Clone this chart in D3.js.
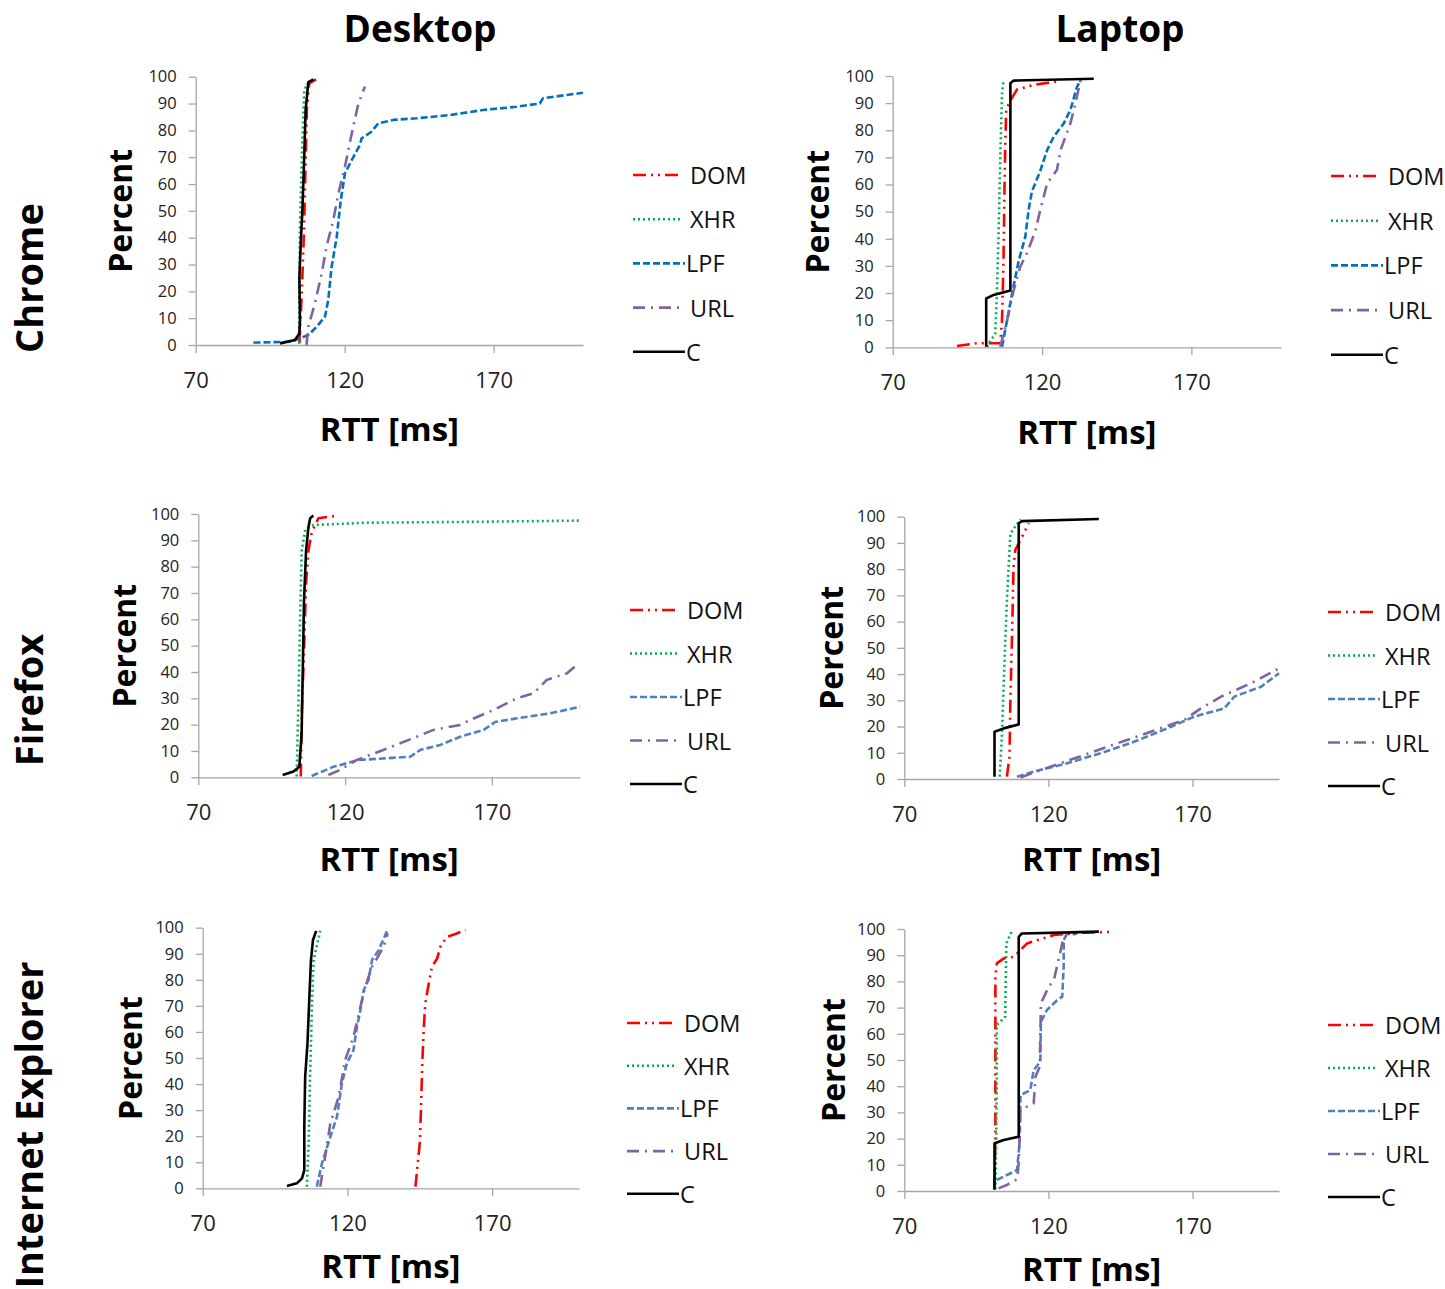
<!DOCTYPE html>
<html><head><meta charset="utf-8">
<script src="https://cdn.jsdelivr.net/npm/d3@7"></script>
<style>body{margin:0;background:#fff}svg{display:block}</style>
</head><body>
<svg id="c" width="1445" height="1289"></svg>
<script>
// ---- labels / ticks ----
const machines = ["Desktop", "Laptop"];
const browsers = ["Chrome", "Firefox", "Internet Explorer"];
const seriesNames = ["DOM", "XHR", "LPF", "URL", "C"];
const xTicks = [70, 120, 170];
const yTicks = [0, 10, 20, 30, 40, 50, 60, 70, 80, 90, 100];
const xDomain = [70, 200];
const yDomain = [0, 100];

// ---- data: [RTT ms, percent] ----
// Chrome / Desktop
const chromeDesktopDOM = [[104.8,0.6],[105.6,19],[106.4,44],[106.9,69],[107.3,87.6],[108.1,97.5],[110.4,99]];
const chromeDesktopXHR = [[104.7,0.6],[104.8,19],[105,44],[105.6,69],[106.4,94],[107.3,97.5]];
const chromeDesktopLPF = [[89.4,0.9],[101.7,1.2],[105,2.5],[107.8,3.7],[110.6,6.8],[113.4,10.6],[114.5,16.8],[115.6,29],[117.3,40],[118.7,54],[120.1,64],[122.4,69],[125.1,74.5],[125.7,77],[129,79.5],[131.3,82.6],[136.3,83.9],[144.2,84.5],[155.3,85.7],[166.5,87.6],[177.7,88.8],[185.5,90],[186.6,92],[200,94]];
const chromeDesktopURL = [[107.2,0],[107.8,6.8],[110,15.5],[112.3,26.7],[113.9,36.6],[116.2,46.6],[117.9,56.5],[120.1,66.5],[122.4,78.9],[124.6,90],[126.8,96.3]];
const chromeDesktopC = [[98.3,0.6],[103.3,1.9],[104.8,4.3],[105,9.3],[104.8,25],[105.3,39],[105.8,50],[106.4,69],[106.9,87.6],[107.8,98],[109.5,99]];
// Chrome / Laptop
const chromeLaptopDOM = [[91.5,0.5],[98.2,1.5],[106,1.5],[106.6,10],[107.1,32],[107.4,57],[107.7,75],[108,87.5],[109.4,91],[111.6,95],[117.2,96.7],[125,98]];
const chromeLaptopXHR = [[101.5,0.2],[104.3,5],[104.9,20],[105.5,44.5],[106,69],[106.6,93.6],[107.1,98.5]];
const chromeLaptopLPF = [[106.6,0.2],[108.3,10],[110,20],[112.2,32],[114.4,40.8],[115.5,50.6],[116.6,57.4],[119.4,65],[121.7,72.7],[123.9,77.6],[127.3,82.6],[129.5,87.5],[131.7,96],[132.9,98.5]];
const chromeLaptopURL = [[106,0.2],[108.3,10],[110.5,21],[112.7,29.7],[114.9,34.6],[117.8,43],[119.4,50.6],[121.7,60.4],[125,65.4],[126.2,72.7],[129.5,82.6],[131.2,90],[132.9,98.5]];
const chromeLaptopC = [[101.3,0.2],[101.3,18],[103.8,19.3],[109.4,20.9],[109.4,97.3],[110.5,98.3],[137.3,99]];
// Firefox / Desktop
const firefoxDesktopDOM = [[104.9,0.3],[105.2,23],[106,48],[106.7,73.7],[107.5,86],[108.6,93],[110.9,98.4],[117.7,99.4]];
const firefoxDesktopXHR = [[103.5,0.3],[104.1,29],[104.7,61],[105.2,86],[106.4,94],[109.2,95.8],[127.4,96.7],[161.5,97],[200,97.5]];
const firefoxDesktopLPF = [[108.6,0.5],[116,4],[124.9,6.6],[142.2,7.8],[145.6,10.4],[152.4,12.3],[159.2,15.4],[167.2,18],[171.1,21],[178.5,22.4],[189.9,24.3],[200,26.8]];
const firefoxDesktopURL = [[114.3,0.9],[118.3,2.8],[124,6.6],[133,10.4],[144.4,15.4],[150.1,18],[159.2,19.9],[162.6,21.8],[170.6,25.6],[178.5,30],[184.2,31.9],[188.7,37],[195.6,39.5],[198.9,42.7]];
const firefoxDesktopC = [[98.75,0.9],[102.4,2.2],[104.4,4],[105.2,16.7],[105.6,42],[106,67],[106.7,86],[107.5,95],[108.1,98.4],[109.2,99.4]];
// Firefox / Laptop
const firefoxLaptopDOM = [[105.6,0.9],[106.5,8.5],[106.8,30],[107.4,55.5],[107.9,81],[108.5,87.3],[109.7,89.8],[111.4,93.6],[113.2,97.5]];
const firefoxLaptopXHR = [[103.1,0.9],[103.9,17.4],[104.7,42.8],[105.6,68.2],[106.8,93.6],[110.3,99]];
const firefoxLaptopLPF = [[109.1,0.9],[114.9,2.8],[126.5,6],[138.1,9.8],[149.7,14.2],[161.3,19.3],[170.6,23.8],[181,26.9],[184.5,31.4],[193.8,35.2],[200,40.3]];
const firefoxLaptopURL = [[110.3,0.6],[120.7,4.7],[132.3,9.1],[143.9,13.6],[155.5,18],[167.1,22.5],[172.9,26.9],[179.9,31.4],[190.3,36.5],[200,42.2]];
const firefoxLaptopC = [[101.3,0.9],[101.3,18],[104.5,19.3],[109.7,20.8],[109.7,97.5],[110.8,98.3],[137.5,99.1]];
// Internet Explorer / Desktop
const ieDesktopDOM = [[143.5,0.6],[144.3,9.6],[145,17.3],[145.4,30],[145.9,49.2],[146.4,62],[146.9,71],[148.1,78.6],[149.2,85],[151,88.2],[152.1,92.7],[154.4,96.5],[157.3,97.6],[160.8,99.1]];
const ieDesktopXHR = [[106,0.6],[106.6,17.3],[107.1,42.8],[107.7,68.4],[108.3,87.6],[110.6,98.8]];
const ieDesktopLPF = [[109.4,0.6],[111.2,9.6],[114.1,19.8],[116.4,27.5],[118.1,40.3],[119.8,48],[122.1,53],[123.3,62],[124.5,68.4],[125.6,76],[127.3,80],[128.5,87.6],[130.8,91.4],[133.7,98.8]];
const ieDesktopURL = [[110.6,0.6],[112.3,12.1],[114.1,24.9],[117,35.2],[119.2,49.2],[122.1,58.2],[124.5,69.7],[126.2,77.4],[128.5,85],[132.5,92.7],[133.9,97.8]];
const ieDesktopC = [[99.1,0.9],[102.5,1.9],[104.3,3.8],[105.1,7],[105.1,23.7],[105.4,42.8],[106.2,55.6],[106.9,74.8],[107.4,87.6],[108.1,95.3],[109.2,98.8]];
// Internet Explorer / Laptop
const ieLaptopDOM = [[101.2,0.6],[101.6,18.2],[101.6,56.4],[101.6,81.8],[102.1,86.9],[104.5,88.8],[108,89.4],[112.6,94.5],[121.9,97.7],[132.3,98.6],[142.2,98.9]];
const ieLaptopXHR = [[101.6,0.6],[101.9,18.2],[102.1,43.6],[102.1,63.4],[103.9,65.3],[105,66.5],[105.4,94.5],[107.4,99.4]];
const ieLaptopLPF = [[102.1,4.2],[105.6,6.1],[109.1,8],[110,18.2],[110.3,36.6],[113.7,38.5],[114.9,46.2],[117.2,49.4],[117.4,64.6],[119.5,69.1],[123,72.8],[124.8,74.2],[125.3,85.6],[125.3,95.8],[126.5,98.3]];
const ieLaptopURL = [[102.7,1],[105.6,2.3],[109.1,4.5],[109.7,10.6],[110.3,30.9],[114.9,33.5],[115.5,43.6],[117,47.5],[117.4,71.6],[120.1,78],[121.9,80.5],[124.8,94.5],[125.3,97],[130,98.3]];
const ieLaptopC = [[101.3,0.6],[101.3,18.2],[104.5,19.5],[109.7,20.7],[109.7,97],[110.8,98.3],[124.2,98.6],[137.5,99]];

const panelData = [
  [chromeDesktopDOM, chromeDesktopXHR, chromeDesktopLPF, chromeDesktopURL, chromeDesktopC],
  [chromeLaptopDOM, chromeLaptopXHR, chromeLaptopLPF, chromeLaptopURL, chromeLaptopC],
  [firefoxDesktopDOM, firefoxDesktopXHR, firefoxDesktopLPF, firefoxDesktopURL, firefoxDesktopC],
  [firefoxLaptopDOM, firefoxLaptopXHR, firefoxLaptopLPF, firefoxLaptopURL, firefoxLaptopC],
  [ieDesktopDOM, ieDesktopXHR, ieDesktopLPF, ieDesktopURL, ieDesktopC],
  [ieLaptopDOM, ieLaptopXHR, ieLaptopLPF, ieLaptopURL, ieLaptopC]
];

// ---- styles ----
const lpfBlue = ["#0070C0", "#0070C0", "#4F81BD", "#4F81BD", "#4F81BD", "#4F81BD"];
const styles = {
  DOM: {color: "#FF0000", dash: "13,5,2,5,2,5"},
  XHR: {color: "#00B050", dash: "2,3"},
  LPF: {color: "#0070C0", dash: "7,3"},
  URL: {color: "#8064A2", dash: "12,6,2,6"},
  C:   {color: "#000000", dash: null}
};

// ---- layout ----
const layout = [
  {l:195.7, r:583, t:76.7, b:345, lx:633, ly:175, ls:44.2, xt:83, pt:76},
  {l:892.7, r:1281, t:76, b:347.3, lx:1331, ly:176, ls:44.7, xt:84, pt:76},
  {l:198.3, r:580, t:514, b:777.3, lx:630, ly:610, ls:43.5, xt:81, pt:75},
  {l:904.3, r:1279, t:516.7, b:779, lx:1328, ly:612, ls:43.5, xt:79, pt:74},
  {l:202.7, r:579, t:927.7, b:1188.3, lx:627, ly:1023, ls:42.7, xt:77, pt:73},
  {l:904.3, r:1279, t:929, b:1191, lx:1328, ly:1025, ls:43, xt:77, pt:72}
];

const svg = d3.select("#c");
const FONT = "'Open Sans', 'Liberation Sans', sans-serif";
const axisColor = "#A6A6A6";

// column titles
[420, 1120].forEach((x, i) => {
  svg.append("text").attr("x", x).attr("y", 27).attr("text-anchor", "middle")
    .attr("dominant-baseline", "central").attr("font-family", FONT).attr("font-weight", 700)
    .attr("font-size", 37).text(machines[i]);
});
// row titles
[278, 700, 1125].forEach((y, i) => {
  svg.append("text").attr("transform", `translate(28,${y}) rotate(-90)`).attr("text-anchor", "middle")
    .attr("dominant-baseline", "central").attr("font-family", FONT).attr("font-weight", 700)
    .attr("font-size", 38).text(browsers[i]);
});

layout.forEach((L, pi) => {
  const x = d3.scaleLinear().domain(xDomain).range([L.l, L.r]);
  const y = d3.scaleLinear().domain(yDomain).range([L.b, L.t]);
  const g = svg.append("g");

  // y axis
  const yAxis = d3.axisLeft(y).tickValues(yTicks).tickSize(7).tickPadding(12).tickSizeOuter(0);
  const ya = g.append("g").attr("transform", `translate(${L.l},0)`).call(yAxis);
  ya.select(".domain").attr("stroke", axisColor).attr("stroke-width", 1.3);
  ya.selectAll(".tick line").attr("stroke", axisColor).attr("stroke-width", 1.3);
  ya.selectAll(".tick text").attr("font-family", FONT).attr("font-size", 16.5).attr("fill", "#222");

  // x axis
  const xAxis = d3.axisBottom(x).tickValues(xTicks).tickSize(8).tickPadding(19).tickSizeOuter(0);
  const xa = g.append("g").attr("transform", `translate(0,${L.b})`).call(xAxis);
  xa.select(".domain").attr("stroke", axisColor).attr("stroke-width", 1.3);
  xa.selectAll(".tick line").attr("stroke", axisColor).attr("stroke-width", 1.3);
  xa.selectAll(".tick text").attr("font-family", FONT).attr("font-size", 22).attr("fill", "#222");

  // axis titles
  g.append("text").attr("x", (L.l + L.r) / 2).attr("y", L.b + L.xt).attr("text-anchor", "middle")
    .attr("dominant-baseline", "central").attr("font-family", FONT).attr("font-weight", 700)
    .attr("font-size", 33).text("RTT [ms]");
  g.append("text").attr("transform", `translate(${L.l - L.pt},${(L.t + L.b) / 2}) rotate(-90)`)
    .attr("text-anchor", "middle").attr("dominant-baseline", "central").attr("font-family", FONT)
    .attr("font-weight", 700).attr("font-size", 32).text("Percent");

  // series
  const line = d3.line().x(d => x(d[0])).y(d => y(d[1]));
  seriesNames.forEach((name, si) => {
    const st = styles[name];
    const color = name === "LPF" ? lpfBlue[pi] : st.color;
    g.append("path").datum(panelData[pi][si]).attr("d", line).attr("fill", "none")
      .attr("stroke", color).attr("stroke-width", 2.6)
      .attr("stroke-dasharray", st.dash).attr("stroke-linejoin", "round");
    // legend
    const ly = L.ly + si * L.ls;
    const long = (name === "LPF" || name === "C");
    g.append("line").attr("x1", L.lx).attr("x2", L.lx + (long ? 52 : 48))
      .attr("y1", ly).attr("y2", ly).attr("stroke", color).attr("stroke-width", 2.6)
      .attr("stroke-dasharray", st.dash);
    g.append("text").attr("x", L.lx + (long ? 53 : 57)).attr("y", ly)
      .attr("dominant-baseline", "central").attr("font-family", FONT).attr("font-size", 23.5)
      .attr("fill", "#111").text(name);
  });
});
</script>
</body></html>
